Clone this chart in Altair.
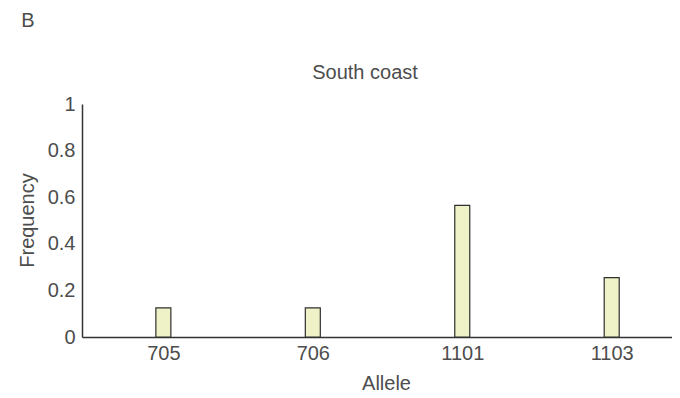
import altair as alt
import pandas as pd

alleles = ["705", "706", "1101", "1103"]
positions = [1, 2, 3, 4]
frequencies = [0.125, 0.125, 0.565, 0.255]
panel_letter = "B"
title_text = "South coast"
y_ticks = [0, 0.2, 0.4, 0.6, 0.8, 1]

df = pd.DataFrame({"pos": positions, "allele": alleles, "freq": frequencies})

label_expr = "[" + ",".join("'" + a + "'" for a in alleles) + "][datum.value - 1]"

FONT = "Liberation Sans"
TXT = "#4d4d4d"
AX = "#333333"

bars = alt.Chart(df).mark_bar(
    size=15, fill="#eef2c6", stroke="#2f2f2f", strokeWidth=1.2
).encode(
    x=alt.X("pos:Q",
            scale=alt.Scale(domain=[0.489, 4.37], nice=False, zero=False),
            axis=alt.Axis(values=positions, labelExpr=label_expr, title="Allele",
                          grid=False, ticks=False, domainColor=AX, domainWidth=1.5,
                          labelFont=FONT, labelFontSize=20, labelColor=TXT, labelPadding=6,
                          titleFont=FONT, titleFontSize=20, titleColor=TXT, titleFontWeight="normal",
                          titleX=304, titleY=46, titleBaseline="middle", titleAlign="center")),
    y=alt.Y("freq:Q",
            scale=alt.Scale(domain=[0, 1], nice=False),
            axis=alt.Axis(values=y_ticks, format="~g", title="Frequency",
                          grid=False, ticks=False, domainColor=AX, domainWidth=1.5,
                          labelFont=FONT, labelFontSize=20, labelColor=TXT, labelPadding=7,
                          titleFont=FONT, titleFontSize=20, titleColor=TXT, titleFontWeight="normal",
                          titleX=-55, titleY=116, titleBaseline="middle", titleAlign="center")),
)

title = alt.Chart(pd.DataFrame({"t": [title_text]})).mark_text(
    font=FONT, fontSize=20, color=TXT, align="center", baseline="middle"
).encode(text="t:N", x=alt.value(283), y=alt.value(-31))

letter = alt.Chart(pd.DataFrame({"t": [panel_letter]})).mark_text(
    font=FONT, fontSize=20, color=TXT, align="center", baseline="middle"
).encode(text="t:N", x=alt.value(-54), y=alt.value(-83))

chart = alt.layer(bars, title, letter).properties(
    width=590, height=233,
    autosize=alt.AutoSizeParams(type="none"),
    padding={"left": 74, "top": 96, "right": 0, "bottom": 55},
).configure(background="white").configure_view(stroke=None)

chart.save("out.html", embed_options={"renderer": "svg", "actions": False})
